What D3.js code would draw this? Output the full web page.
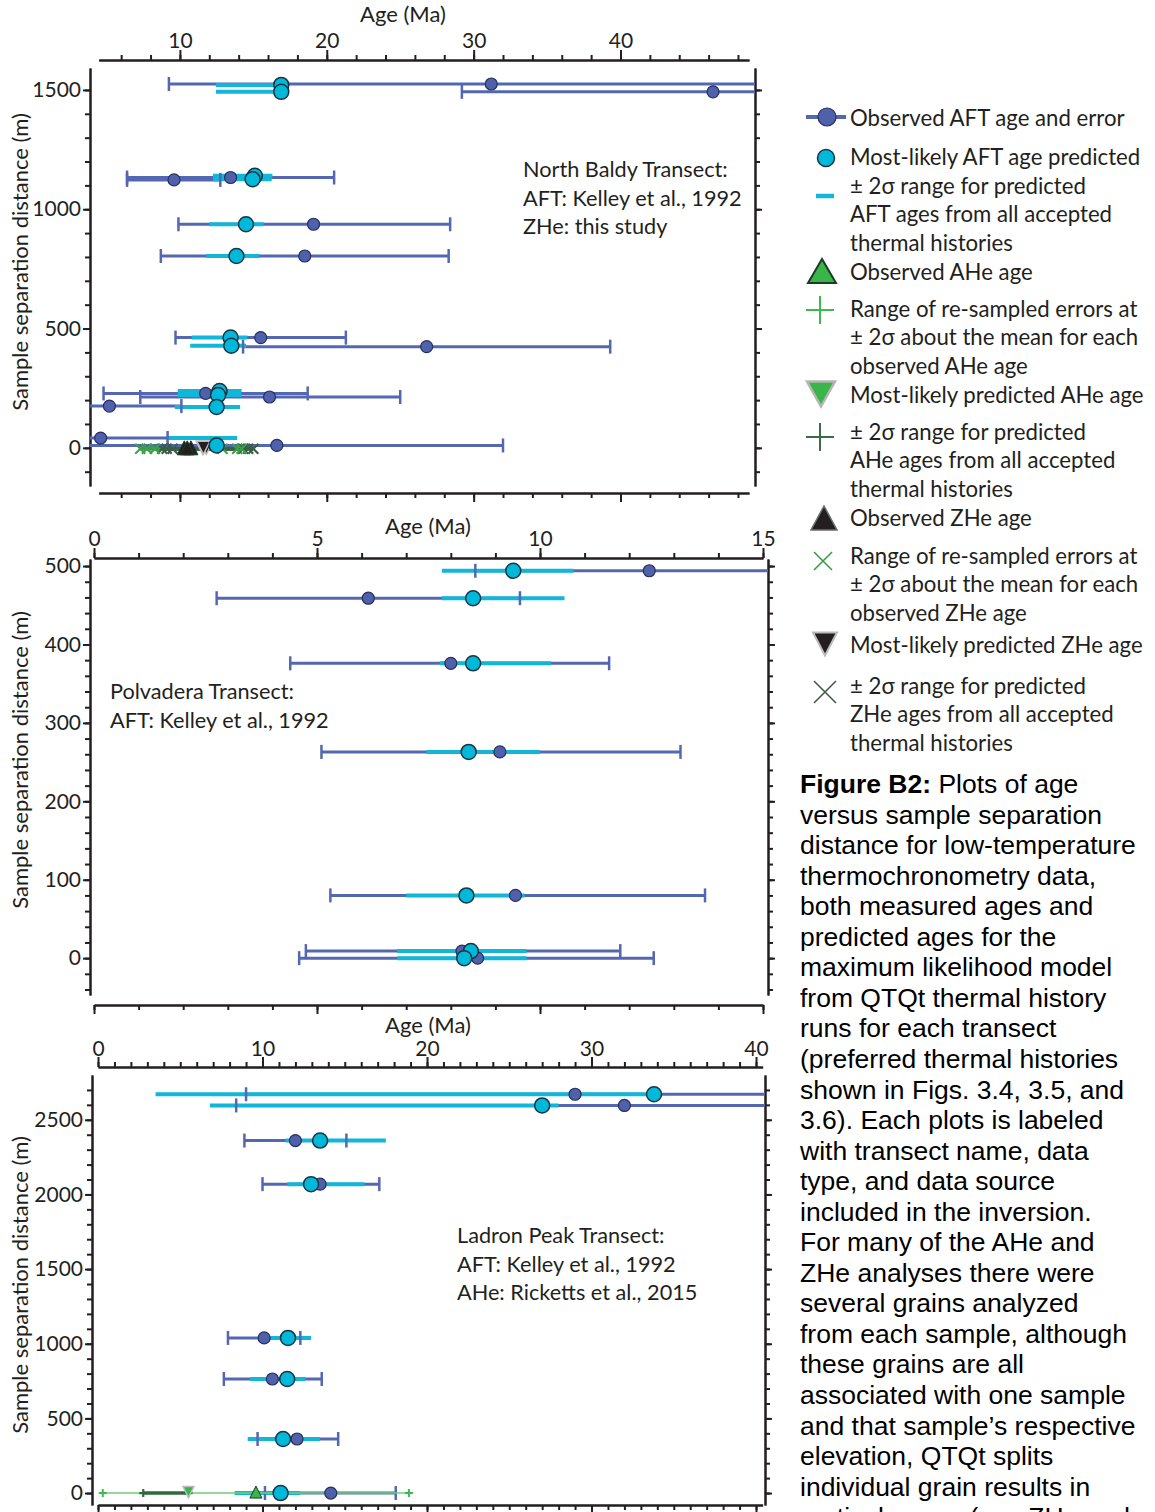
<!DOCTYPE html>
<html>
<head>
<meta charset="utf-8">
<title>Figure B2</title>
<style>
  body { margin: 0; background: #fff; }
  svg text { font-family: Lato, "Open Sans", sans-serif; fill: #231f20; }
  .tick text { font-size: 21px; font-family: Lato, sans-serif; fill: #231f20; }
  .axis path, .axis line { stroke: #231f20; stroke-width: 2; }
  .err { stroke: #5467b2; stroke-width: 3; }
  .cap { stroke: #5467b2; stroke-width: 2.5; }
  .prng { stroke: #12b6d8; stroke-width: 4; }
  .obs { fill: #4f61ab; stroke: #26305e; stroke-width: 1.2; }
  .pred { fill: #00b8d9; stroke: #1b3442; stroke-width: 1.5; }
  .title { font-size: 22px; }
  .note { font-size: 21.7px; }
  .legend { font-size: 22.2px; }
  .caption { font-family: "Liberation Sans", Arial, sans-serif; font-size: 26.5px; fill: #000; }
</style>
</head>
<body>
<svg id="chart" width="1155" height="1512"></svg>
<script src="https://cdn.jsdelivr.net/npm/d3@7"></script>
<script>
// ---- North Baldy transect ----
// observed AFT: [age, low 2s, high 2s, separation m]
const nbObserved = [
  [31.2, 9.25, 53.2, 1525], [46.3, 29.2, 63.4, 1492],
  [9.6, 6.4, 12.75, 1123], [13.45, 6.4, 20.5, 1133],
  [19.1, 9.9, 28.4, 937], [18.5, 8.7, 28.3, 804],
  [15.5, 9.7, 21.3, 462], [26.8, 14.3, 39.3, 424],
  [11.75, 4.8, 18.7, 228], [16.1, 7.3, 25.0, 213],
  [5.2, 0.3, 10.1, 175], [4.6, 0.0, 9.16, 41], [16.6, 1.2, 32.0, 10]
]
// predicted AFT: [most likely age, low, high, separation m]
const nbPredicted = [
  [16.9, 12.45, 17.0, 1521], [16.9, 12.45, 16.9, 1492],
  [15.1, 12.25, 16.3, 1140], [14.95, 12.25, 16.25, 1126],
  [14.5, 12.0, 15.7, 937], [13.85, 11.8, 15.4, 804],
  [13.45, 10.8, 14.6, 462], [13.5, 10.7, 14.5, 428],
  [12.7, 9.85, 14.2, 238], [12.6, 9.85, 14.2, 221],
  [12.5, 9.65, 14.1, 171], [null, 9.16, 13.9, 41], [12.5, 12.5, 12.5, 10]
]
// ZHe grains at 0 m: [observed, resample low, resample high, predicted, pred low, pred high]
const nbZhe = [
  [10.3, 7.3, 13.9, 11.55, 8.8, 14.3],
  [10.75, 7.75, 12.9, 11.8, 9.1, 14.65],
  [10.5, 8.3, 14.2, 11.6, 9.5, 15.0]
]
const nbAgeTicks = [10, 20, 30, 40]
const nbElevTicks = [0, 500, 1000, 1500]

// ---- Polvadera transect ----
const pvObserved = [
  [12.45, 8.55, 16.4, 494], [6.15, 2.75, 9.55, 459],
  [8.0, 4.4, 11.55, 376], [9.1, 5.1, 13.15, 263],
  [9.45, 5.3, 13.7, 80], [8.25, 4.75, 11.8, 9], [8.6, 4.6, 12.55, 0]
]
const pvPredicted = [
  [9.4, 7.8, 10.75, 494], [8.5, 7.8, 10.55, 459],
  [8.5, 7.75, 10.25, 376], [8.4, 7.45, 10.0, 263],
  [8.35, 7.0, 9.65, 80], [8.45, 6.8, 9.7, 9], [8.3, 6.8, 9.7, 0]
]
const pvAgeTicks = [0, 5, 10, 15]
const pvElevTicks = [0, 100, 200, 300, 400, 500]

// ---- Ladron Peak transect ----
const lpObserved = [
  [29.0, 9.0, 49.0, 2671], [32.0, 8.4, 55.6, 2596],
  [12.0, 8.9, 15.1, 2361], [13.5, 10.0, 17.1, 2069],
  [10.1, 7.9, 12.3, 1039], [10.6, 7.65, 13.6, 764],
  [12.1, 9.7, 14.6, 362], [14.15, 10.15, 18.1, 0]
]
const lpPredicted = [
  [33.8, 3.5, 33.8, 2671], [27.0, 6.8, 28.0, 2596],
  [13.5, 11.4, 17.5, 2361], [12.95, 11.5, 16.2, 2069],
  [11.55, 9.85, 12.95, 1039], [11.5, 9.25, 12.6, 764],
  [11.25, 9.1, 13.5, 362], [11.1, 8.3, 12.3, 0]
]
// AHe at 0 m: [observed, resample low, resample high, predicted, pred low, pred high]
const lpAhe = [[9.6, 0.29, 18.9, 5.5, 2.75, 5.5]]
const lpAgeTicks = [0, 10, 20, 30, 40]
const lpElevTicks = [0, 500, 1000, 1500, 2000, 2500]

const legendItems = [
  ["Observed AFT age and error"],
  ["Most-likely AFT age predicted"],
  ["± 2σ range for predicted", "AFT ages from all accepted", "thermal histories"],
  ["Observed AHe age"],
  ["Range of re-sampled errors at", "± 2σ about the mean for each", "observed AHe age"],
  ["Most-likely predicted AHe age"],
  ["± 2σ range for predicted", "AHe ages from all accepted", "thermal histories"],
  ["Observed ZHe age"],
  ["Range of re-sampled errors at", "± 2σ about the mean for each", "observed ZHe age"],
  ["Most-likely predicted ZHe age"],
  ["± 2σ range for predicted", "ZHe ages from all accepted", "thermal histories"]
]

const captionLines = [
  "Plots of age",
  "versus sample separation",
  "distance for low-temperature",
  "thermochronometry data,",
  "both measured ages and",
  "predicted ages for the",
  "maximum likelihood model",
  "from QTQt thermal history",
  "runs for each transect",
  "(preferred thermal histories",
  "shown in Figs. 3.4, 3.5, and",
  "3.6). Each plots is labeled",
  "with transect name, data",
  "type, and data source",
  "included in the inversion.",
  "For many of the AHe and",
  "ZHe analyses there were",
  "several grains analyzed",
  "from each sample, although",
  "these grains are all",
  "associated with one sample",
  "and that sample\u2019s respective",
  "elevation, QTQt splits",
  "individual grain results in",
  "vertical space (see ZHe and"
]

const svg = d3.select("#chart")

function plusPath(cx, cy, r) {
  return `M${cx - r},${cy}H${cx + r}M${cx},${cy - r}V${cy + r}`
}
function xPath(cx, cy, r) {
  return `M${cx - r},${cy - r}L${cx + r},${cy + r}M${cx - r},${cy + r}L${cx + r},${cy - r}`
}
function triPath(cx, cy, w, h, down) {
  let s = down ? -1 : 1
  return `M${cx - w / 2},${cy + s * h / 2}L${cx + w / 2},${cy + s * h / 2}L${cx},${cy - s * h / 2}Z`
}

function drawPanel(p) {
  let g = svg.append("g")
  let x = p.x, y = p.y
  let id = "clip" + p.name
  svg.append("clipPath").attr("id", id)
    .append("rect")
    .attr("x", p.left).attr("y", 0)
    .attr("width", p.right - p.left).attr("height", 1512)

  // top axis with labels
  let xr = x.domain()
  let minor = d3.range(Math.ceil(xr[0] / p.xStep) * p.xStep, xr[1] + 0.001, p.xStep)
  g.append("g").attr("class", "axis")
    .attr("transform", `translate(0,${p.topY})`)
    .call(d3.axisTop(x).tickValues(minor).tickSize(5).tickSizeOuter(0).tickFormat(""))
  g.append("g").attr("class", "axis")
    .attr("transform", `translate(0,${p.topY})`)
    .call(d3.axisTop(x).tickValues(p.xTicks).tickSize(10).tickSizeOuter(0).tickPadding(p.labelPad))
  // bottom axis, ticks only
  g.append("g").attr("class", "axis")
    .attr("transform", `translate(0,${p.bottomY})`)
    .call(d3.axisBottom(x).tickValues(minor).tickSize(5).tickSizeOuter(0).tickFormat(""))
  g.append("g").attr("class", "axis")
    .attr("transform", `translate(0,${p.bottomY})`)
    .call(d3.axisBottom(x).tickValues(p.xTicks).tickSize(9).tickSizeOuter(0).tickFormat(""))

  g.append("text").attr("class", "title")
    .attr("x", p.titleX).attr("y", p.titleY)
    .attr("text-anchor", "middle").text("Age (Ma)")

  // y axes
  let yr = y.domain()
  let yMinor = d3.range(Math.ceil(yr[0] / p.yStep) * p.yStep, yr[1], p.yStep)
  ;[[p.left, d3.axisLeft, true], [p.right, d3.axisRight, false]].forEach(([px, ax, lab]) => {
    g.append("g").attr("class", "axis")
      .attr("transform", `translate(${px},0)`)
      .call(ax(y).tickValues(yMinor).tickSize(5).tickSizeOuter(0).tickFormat(""))
    let major = g.append("g").attr("class", "axis")
      .attr("transform", `translate(${px},0)`)
      .call(ax(y).tickValues(p.yTicks).tickSize(7).tickSizeOuter(0).tickPadding(2).tickFormat(d3.format("d")))
    if (!lab) major.selectAll("text").remove()
  })

  g.append("text").attr("class", "title")
    .attr("transform", `translate(28,${p.yTitleY}) rotate(-90)`)
    .attr("text-anchor", "middle").text("Sample separation distance (m)")

  p.notes.forEach((t, i) => {
    g.append("text").attr("class", "note")
      .attr("x", p.noteX).attr("y", p.noteY + i * 28.5).text(t)
  })

  let marks = g.append("g").attr("clip-path", `url(#${id})`)

  marks.selectAll(".err").data(p.obs).join("line")
    .attr("class", "err")
    .attr("x1", d => x(d[1])).attr("x2", d => x(d[2]))
    .attr("y1", d => y(d[3])).attr("y2", d => y(d[3]))

  marks.selectAll(".prng").data(p.pred).join("line")
    .attr("class", "prng")
    .attr("x1", d => x(d[1])).attr("x2", d => x(d[2]))
    .attr("y1", d => y(d[3])).attr("y2", d => y(d[3]))

  let caps = p.obs.flatMap(d => [[d[1], d[3]], [d[2], d[3]]])
    .filter(c => c[0] > xr[0] && c[0] < xr[1])
  marks.selectAll(".cap").data(caps).join("line")
    .attr("class", "cap")
    .attr("x1", d => x(d[0])).attr("x2", d => x(d[0]))
    .attr("y1", d => y(d[1]) - 7).attr("y2", d => y(d[1]) + 7)

  // thermochronometer grains (AHe / ZHe) at 0 m
  if (p.grains) {
    let gy = y(0) + p.grainDy
    let gr = p.grains
    marks.selectAll(".rs").data(gr).join("line")
      .attr("x1", d => x(d[1])).attr("x2", d => x(d[2]))
      .attr("y1", gy).attr("y2", gy)
      .attr("stroke", p.rsColor).attr("stroke-width", p.rsWidth)
    marks.selectAll(".pr").data(gr).join("line")
      .attr("x1", d => x(d[4])).attr("x2", d => x(d[5]))
      .attr("y1", gy).attr("y2", gy)
      .attr("stroke", p.prColor).attr("stroke-width", 3.5)
    let sym = p.kind === "ZHe" ? xPath : plusPath
    gr.forEach(d => {
      marks.append("path").attr("d", sym(x(d[1]), gy, p.symR) + sym(x(d[2]), gy, p.symR))
        .attr("stroke", p.rsMark).attr("stroke-width", 2).attr("fill", "none")
      marks.append("path").attr("d", sym(x(d[4]), gy, p.symR) + sym(x(d[5]), gy, p.symR))
        .attr("stroke", p.prColor).attr("stroke-width", 2.2).attr("fill", "none")
    })
  }

  marks.selectAll(".obs").data(p.obs).join("circle")
    .attr("class", "obs")
    .attr("cx", d => x(d[0])).attr("cy", d => y(d[3])).attr("r", 6)

  if (p.grains) {
    let gy = y(0) + p.grainDy
    p.grains.forEach(d => {
      marks.append("path").attr("d", triPath(x(d[3]), gy - 1, p.triW, p.triW, true))
        .attr("fill", p.triFill).attr("stroke", "#bdbdbd").attr("stroke-width", 1.5)
    })
  }

  marks.selectAll(".pred").data(p.pred.filter(d => d[0] !== null)).join("circle")
    .attr("class", "pred")
    .attr("cx", d => x(d[0])).attr("cy", d => y(d[3])).attr("r", 7.5)

  if (p.grains) {
    let gy = y(0) + p.grainDy
    p.grains.forEach(d => {
      marks.append("path").attr("d", triPath(x(d[0]), gy - 1, p.triW + 1, p.triW + 1, false))
        .attr("fill", p.triFill).attr("stroke", "#1d3b24").attr("stroke-width", 1)
    })
  }
}

drawPanel({
  name: "nb",
  x: d3.scaleLinear().domain([4.47, 48.75]).range([98.7, 749]),
  y: d3.scaleLinear().domain([-160, 1592]).range([486, 68]),
  left: 90, right: 755, topY: 60, bottomY: 493,
  xStep: 2, xTicks: nbAgeTicks, yStep: 100, yTicks: nbElevTicks,
  labelPad: 2, titleX: 403, titleY: 22, yTitleY: 262,
  notes: ["North Baldy Transect:", "AFT: Kelley et al., 1992", "ZHe: this study"],
  noteX: 523, noteY: 177,
  obs: nbObserved, pred: nbPredicted,
  grains: nbZhe, kind: "ZHe", grainDy: 1, symR: 5, triW: 13,
  rsColor: "#3d9a48", rsWidth: 3.5, rsMark: "#3aa04a", prColor: "#3c5e46", triFill: "#231f20"
})

drawPanel({
  name: "pv",
  x: d3.scaleLinear().domain([0, 15]).range([94, 763]),
  y: d3.scaleLinear().domain([-47, 509]).range([995, 559]),
  left: 90, right: 768, topY: 558, bottomY: 1005,
  xStep: 1, xTicks: pvAgeTicks, yStep: 20, yTicks: pvElevTicks,
  labelPad: 2, titleX: 428, titleY: 534, yTitleY: 760,
  notes: ["Polvadera Transect:", "AFT: Kelley et al., 1992"],
  noteX: 110, noteY: 699,
  obs: pvObserved, pred: pvPredicted
})

drawPanel({
  name: "lp",
  x: d3.scaleLinear().domain([0, 40.4]).range([98, 762.6]),
  y: d3.scaleLinear().domain([-80, 2800]).range([1505, 1075]),
  left: 92, right: 765, topY: 1067, bottomY: 1505,
  xStep: 1, xTicks: lpAgeTicks, yStep: 100, yTicks: lpElevTicks,
  labelPad: 1, titleX: 428, titleY: 1033, yTitleY: 1285,
  notes: ["Ladron Peak Transect:", "AFT: Kelley et al., 1992", "AHe: Ricketts et al., 2015"],
  noteX: 457, noteY: 1243,
  obs: lpObserved, pred: lpPredicted,
  grains: lpAhe, kind: "AHe", grainDy: 0, symR: 4, triW: 11,
  rsColor: "#6ccf78", rsWidth: 1.5, rsMark: "#3dba4e", prColor: "#2f6b3a", triFill: "#39b54a"
})

// ---- legend ----
let lg = svg.append("g")
lg.append("line").attr("x1", 806).attr("x2", 846).attr("y1", 117).attr("y2", 117)
  .attr("stroke", "#5467b2").attr("stroke-width", 4)
lg.append("circle").attr("class", "obs").attr("cx", 827).attr("cy", 117).attr("r", 9)
lg.append("circle").attr("class", "pred").attr("cx", 826).attr("cy", 158).attr("r", 8.5)
lg.append("line").attr("x1", 816).attr("x2", 834).attr("y1", 196).attr("y2", 196)
  .attr("stroke", "#12b6d8").attr("stroke-width", 4.5)
lg.append("path").attr("d", triPath(822, 271, 28, 24, false))
  .attr("fill", "#39b54a").attr("stroke", "#1d3b24").attr("stroke-width", 2)
lg.append("path").attr("d", plusPath(820, 310, 14))
  .attr("stroke", "#3dba4e").attr("stroke-width", 2).attr("fill", "none")
lg.append("path").attr("d", triPath(821, 394, 28, 25, true))
  .attr("fill", "#39b54a").attr("stroke", "#b5b5b5").attr("stroke-width", 2.5)
lg.append("path").attr("d", plusPath(820, 437, 14))
  .attr("stroke", "#3d6b47").attr("stroke-width", 2).attr("fill", "none")
lg.append("path").attr("d", triPath(824, 518, 26, 24, false))
  .attr("fill", "#231f20").attr("stroke", "#6d6e71").attr("stroke-width", 1.5)
lg.append("path").attr("d", xPath(823, 561, 9))
  .attr("stroke", "#3a9b48").attr("stroke-width", 1.6).attr("fill", "none")
lg.append("path").attr("d", triPath(825, 644, 24, 23, true))
  .attr("fill", "#231f20").attr("stroke", "#bcbcbc").attr("stroke-width", 2)
lg.append("path").attr("d", xPath(825, 692, 11))
  .attr("stroke", "#3f5c47").attr("stroke-width", 1.6).attr("fill", "none")

const legendTop = [118, 157, 186, 272, 309, 395, 432, 518, 556, 645, 686]
legendItems.forEach((lines, i) => {
  lines.forEach((t, j) => {
    lg.append("text").attr("class", "legend")
      .attr("x", 850).attr("y", legendTop[i] + j * 28.6 + 7.5).text(t)
  })
})

// ---- caption ----
let cap = svg.append("text").attr("class", "caption").attr("x", 800).attr("y", 793)
cap.append("tspan").attr("font-weight", "bold").text("Figure B2:")
cap.append("tspan").text(" " + captionLines[0])
captionLines.slice(1).forEach((t, i) => {
  svg.append("text").attr("class", "caption")
    .attr("x", 800).attr("y", 793 + (i + 1) * 30.55).text(t)
})
</script>
</body>
</html>
